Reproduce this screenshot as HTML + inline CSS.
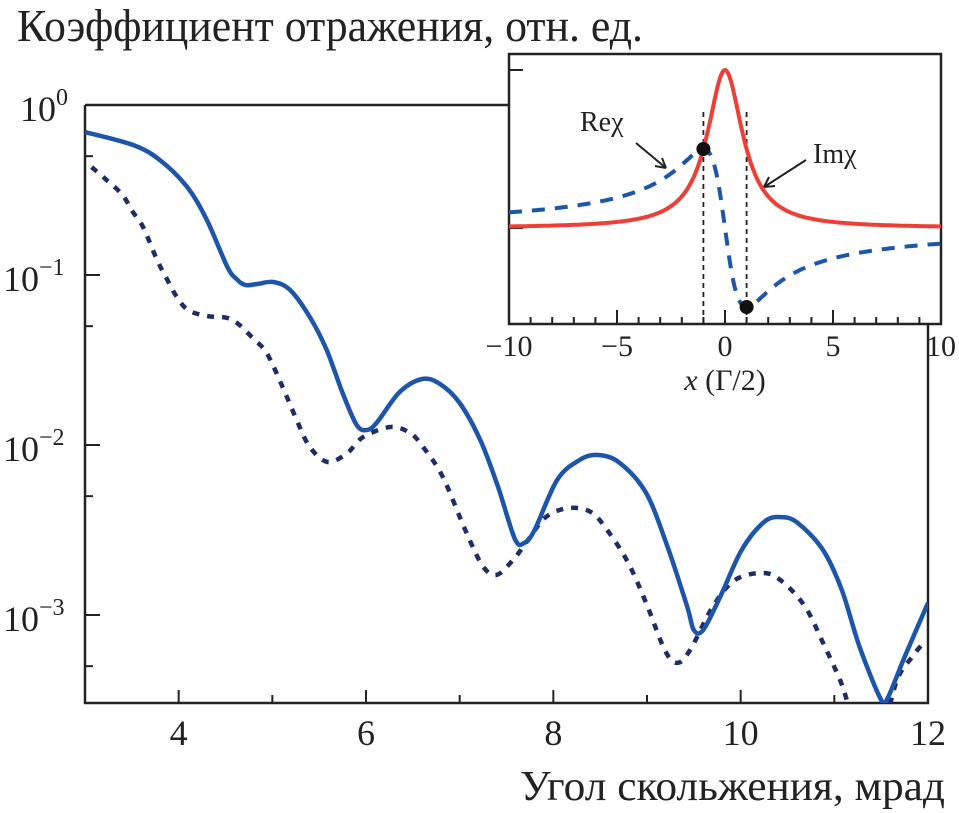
<!DOCTYPE html>
<html><head><meta charset="utf-8"><style>
html,body{margin:0;padding:0;background:#fff;}
svg{display:block;font-family:"Liberation Serif",serif;}
</style></head><body>
<svg id="chart" width="959" height="813" viewBox="0 0 959 813" xmlns="http://www.w3.org/2000/svg">
<defs><clipPath id="mainClip"><rect x="85" y="105" width="843" height="598"/></clipPath>
<clipPath id="insetClip"><rect x="509" y="54" width="432" height="270"/></clipPath></defs>
<g id="main"></g>
<g id="inset"></g>
</svg>
<script>
// Main chart data
const angleSolid = [3.00,3.51,3.80,4.09,4.30,4.52,4.62,4.71,4.84,5.01,5.19,5.40,5.58,5.75,5.90,6.01,6.12,6.36,6.60,6.79,7.00,7.22,7.41,7.59,7.69,7.80,8.04,8.28,8.48,8.71,8.99,9.22,9.43,9.50,9.60,9.78,10.01,10.25,10.43,10.61,10.88,11.08,11.27,11.50,11.57,11.75,12.00];
const logRSolid = [-0.159,-0.235,-0.324,-0.482,-0.676,-0.953,-1.024,-1.059,-1.053,-1.041,-1.088,-1.247,-1.441,-1.694,-1.882,-1.912,-1.865,-1.688,-1.612,-1.641,-1.753,-1.971,-2.247,-2.553,-2.576,-2.500,-2.206,-2.088,-2.059,-2.106,-2.282,-2.600,-2.953,-3.088,-3.088,-2.894,-2.618,-2.453,-2.424,-2.459,-2.618,-2.853,-3.188,-3.500,-3.488,-3.247,-2.929];
const angleDotted = [3.07,3.23,3.40,3.51,3.62,3.77,3.88,3.98,4.10,4.30,4.52,4.65,4.79,4.94,5.11,5.26,5.40,5.59,5.80,5.97,6.26,6.47,6.61,6.82,7.06,7.24,7.39,7.57,7.73,7.92,8.16,8.40,8.59,8.80,8.99,9.19,9.32,9.46,9.70,9.94,10.25,10.45,10.69,10.88,11.06,11.15,11.30,11.50,11.67,11.83,11.95];
const logRDotted = [-0.365,-0.441,-0.529,-0.629,-0.718,-0.912,-1.029,-1.129,-1.206,-1.241,-1.253,-1.294,-1.371,-1.459,-1.659,-1.853,-2.012,-2.100,-2.047,-1.953,-1.894,-1.929,-2.012,-2.188,-2.500,-2.706,-2.765,-2.676,-2.559,-2.424,-2.371,-2.394,-2.512,-2.694,-2.929,-3.206,-3.282,-3.206,-2.953,-2.794,-2.753,-2.806,-2.953,-3.165,-3.382,-3.53,-3.80,-3.70,-3.382,-3.247,-3.165];
const xTickMajor = [4,6,8,10,12];
const xTickMinor = [5,7,9,11];
const yTickDecades = [0,-1,-2,-3];
const yTickMinor = [Math.log10(0.5),Math.log10(0.05),Math.log10(0.005),Math.log10(0.0005)];
// Inset data
const insetXTicksMajor = [-10,-5,0,5,10];
const insetXTicksMinor = [-9,-8,-7,-6,-4,-3,-2,-1,1,2,3,4,6,7,8,9];
const markerX = [-1,1];

const NS="http://www.w3.org/2000/svg";
function mk(tag,attrs,parent){const e=document.createElementNS(NS,tag);for(const k in attrs)e.setAttribute(k,attrs[k]);parent.appendChild(e);return e;}
const main=document.getElementById('main'), inset=document.getElementById('inset');
const X=v=>85+(v-3)*(843/9);
const Y=l=>105-l*170;

let e;
e=mk('path',{d:'M85,105 V703 H928 V324 M85,105 H509',fill:'none',stroke:'#222','stroke-width':2.5},main);


xTickMajor.forEach(t=>{
  if(t<12){e=mk('line',{x1:X(t),x2:X(t),y1:703,y2:690,stroke:'#222','stroke-width':2},main);
  
  }
  e=mk('text',{x:X(t),y:745,'font-size':36,'text-anchor':'middle',fill:'#222'},main);e.textContent=t;
  
  
});
xTickMinor.forEach(t=>{e=mk('line',{x1:X(t),x2:X(t),y1:703,y2:695,stroke:'#222','stroke-width':2},main);
  
  });
yTickDecades.forEach(d=>{
  if(d<0){e=mk('line',{x1:85,x2:100,y1:Y(d),y2:Y(d),stroke:'#222','stroke-width':2},main);
  
  }
  e=mk('text',{x:d===0?20:3,y:Y(d)+16,'font-size':36,fill:'#222'},main);
  
  
  const t1=mk('tspan',{},e);t1.textContent='10';
  const t2=mk('tspan',{dy:-16,'font-size':24},e);t2.textContent=d===0?'0':'−'+(-d);
});
yTickMinor.forEach(l=>{e=mk('line',{x1:85,x2:93,y1:Y(l),y2:Y(l),stroke:'#222','stroke-width':2},main);
  
  });

function pathFrom(xs,ys){
  const p=xs.map((x,i)=>[X(x),Y(ys[i])]);
  let d='M'+p[0][0].toFixed(1)+','+p[0][1].toFixed(1);
  for(let i=0;i<p.length-1;i++){
    const p0=p[i-1]||p[i],p1=p[i],p2=p[i+1],p3=p[i+2]||p[i+1];
    const c1=[p1[0]+(p2[0]-p0[0])/6,p1[1]+(p2[1]-p0[1])/6];
    const c2=[p2[0]-(p3[0]-p1[0])/6,p2[1]-(p3[1]-p1[1])/6];
    d+='C'+c1.map(v=>v.toFixed(1))+' '+c2.map(v=>v.toFixed(1))+' '+p2.map(v=>v.toFixed(1));
  }
  return d;
}
const g=mk('g',{'clip-path':'url(#mainClip)'},main);
e=mk('path',{d:pathFrom(angleDotted,logRDotted),fill:'none',stroke:'#1f2d66','stroke-width':4.5,'stroke-dasharray':'7 8'},g);


e=mk('path',{d:pathFrom(angleSolid,logRSolid),fill:'none',stroke:'#1c55aa','stroke-width':4.5,'stroke-linejoin':'round'},g);



e=mk('text',{x:17,y:41,'font-size':46,fill:'#222',textLength:626,lengthAdjust:'spacingAndGlyphs'},main);
e.textContent='Коэффициент отражения, отн. ед.';


e=mk('text',{x:520,y:800,'font-size':42,fill:'#222',textLength:425,lengthAdjust:'spacingAndGlyphs'},main);
e.textContent='Угол скольжения, мрад';



// Inset
const IX=v=>725+v*21.6;
const IY=v=>228-v*158;
e=mk('rect',{x:509,y:54,width:432,height:270,fill:'#fff',stroke:'#222','stroke-width':2.5},inset);


[70,228].forEach(y=>{e=mk('line',{x1:509,x2:523,y1:y,y2:y,stroke:'#222','stroke-width':2},inset);
  
  });
insetXTicksMajor.forEach(t=>{
  e=mk('line',{x1:IX(t),x2:IX(t),y1:324,y2:310,stroke:'#222','stroke-width':2},inset);
  
  
  e=mk('text',{x:IX(t),y:356,'font-size':30,'text-anchor':'middle',fill:'#222'},inset);
  e.textContent=t<0?'−'+(-t):t;
  
  
});
insetXTicksMinor.forEach(t=>{e=mk('line',{x1:IX(t),x2:IX(t),y1:324,y2:317,stroke:'#222','stroke-width':2},inset);
  
  });
e=mk('text',{x:725,y:390,'font-size':30,'text-anchor':'middle',fill:'#222'},inset);


let ts=mk('tspan',{'font-style':'italic'},e);ts.textContent='x';
ts=mk('tspan',{},e);ts.textContent=' (Γ/2)';

markerX.forEach(m=>{e=mk('line',{x1:IX(m),x2:IX(m),y1:112,y2:324,stroke:'#222','stroke-width':1.8,'stroke-dasharray':'5 4'},inset);
  
  });
const ig=mk('g',{'clip-path':'url(#insetClip)'},inset);
let reD='',imD='';
for(let i=0;i<=400;i++){const x=-10+i*0.05;
  reD+=(i?'L':'M')+IX(x).toFixed(1)+','+IY(-x/(1+x*x)).toFixed(1);
  imD+=(i?'L':'M')+IX(x).toFixed(1)+','+IY(1/(1+x*x)).toFixed(1);}
e=mk('path',{d:reD,fill:'none',stroke:'#1c55aa','stroke-width':4,'stroke-dasharray':'13 10'},ig);


e=mk('path',{d:imD,fill:'none',stroke:'#ef3e36','stroke-width':4},ig);


markerX.forEach(m=>{e=mk('circle',{cx:IX(m),cy:IY(-m/(1+m*m)),r:7,fill:'#111'},inset);
  
  });
e=mk('text',{x:580,y:131,'font-size':28,fill:'#222'},inset);e.textContent='Reχ';


e=mk('text',{x:813,y:163,'font-size':28,fill:'#222'},inset);e.textContent='Imχ';


e=mk('path',{d:'M636,143 L666,168 M666,168 l-11,-2 M666,168 l-4,-10',stroke:'#222','stroke-width':2,fill:'none'},inset);


e=mk('path',{d:'M806,160 L764,187 M764,187 l11,-1 M764,187 l5,-10',stroke:'#222','stroke-width':2,fill:'none'},inset);


</script>
</body></html>
